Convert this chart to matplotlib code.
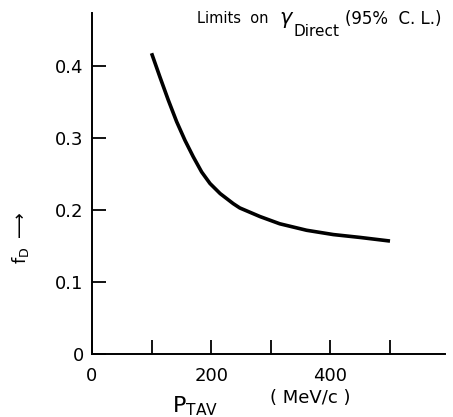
import numpy as np
import matplotlib.pyplot as plt

# curve: P_TAV (MeV/c) vs f_D
p_tav = [100, 114, 128, 142, 156, 170, 184, 198, 215, 237, 248, 265, 282, 315, 360, 405, 450, 500]
f_d = [0.418, 0.385, 0.353, 0.323, 0.297, 0.274, 0.253, 0.237, 0.223, 0.209, 0.203, 0.197, 0.191, 0.181, 0.172, 0.166, 0.162, 0.157]

xticks = [0, 100, 200, 300, 400, 500]
xlabels = ["0", "", "200", "", "400", ""]
yticks = [0, 0.1, 0.2, 0.3, 0.4]
ylabels = ["0", "0.1", "0.2", "0.3", "0.4"]

plt.rcParams['font.family'] = 'DejaVu Sans'

fig = plt.figure(figsize=(4.53, 4.17), dpi=100)
ax = fig.add_axes([0.203, 0.151, 0.779, 0.818])

ax.plot(p_tav, f_d, color='black', linewidth=2.6, solid_capstyle='butt')

ax.set_xlim(0, 592)
ax.set_ylim(0, 0.474)

ax.set_xticks(xticks)
ax.set_xticklabels(xlabels)
ax.tick_params(axis='x', direction='in', length=10, width=1.3, pad=9, labelsize=13)

ax.set_yticks(yticks)
ax.set_yticklabels(ylabels)
ax.tick_params(axis='y', direction='in', length=10, width=1.3, pad=6, labelsize=13)

for s in ['top', 'right']:
    ax.spines[s].set_visible(False)
for s in ['left', 'bottom']:
    ax.spines[s].set_linewidth(1.4)

# annotation, y label with arrow and x label drawn as figure text
fig.text(0.435, 0.955, "Limits  on", ha='left', va='center', fontsize=10.5)
fig.text(0.615, 0.952, r"$\gamma$", ha='left', va='center', fontsize=15)
fig.text(0.648, 0.925, "Direct", ha='left', va='center', fontsize=11)
fig.text(0.762, 0.955, "(95%  C. L.)", ha='left', va='center', fontsize=12)
fig.text(0.045, 0.43, r"f$_{\rm D}$ $\longrightarrow$", rotation=90, ha='center', va='center', fontsize=13)
fig.text(0.38, 0.025, r"P$_{\rm TAV}$", ha='left', va='center', fontsize=16)
fig.text(0.595, 0.045, "( MeV/c )", ha='left', va='center', fontsize=13)

fig.savefig('out.png', dpi=100)
